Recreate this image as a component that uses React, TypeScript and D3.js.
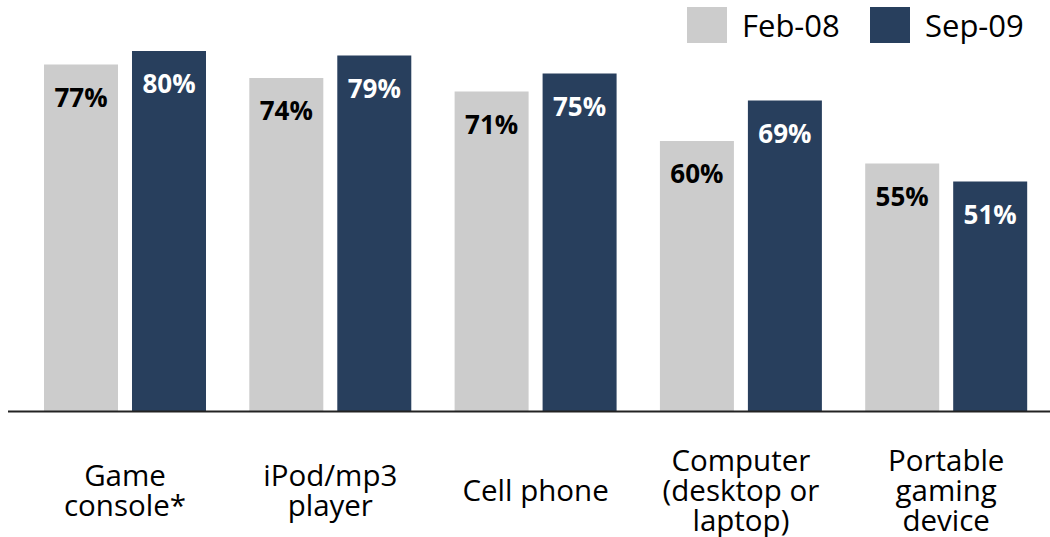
import React from "react";
import * as d3 from "d3";

const categories: string[][] = [
  ["Game", "console*"],
  ["iPod/mp3", "player"],
  ["Cell phone"],
  ["Computer", "(desktop or", "laptop)"],
  ["Portable", "gaming", "device"],
];
const seriesNames = ["Feb-08", "Sep-09"];
const feb08 = [77, 74, 71, 60, 55];
const sep09 = [80, 79, 75, 69, 51];

const W = 1050;
const H = 537;
const FONT = "'Open Sans', 'Noto Sans', sans-serif";
const COLORS = ["#cccccc", "#283f5d"];
const LABEL_COLORS = ["#000000", "#ffffff"];

export default function App() {
  const keys = categories.map((c) => c.join(" "));
  const series = [feb08, sep09];

  const x0 = d3
    .scaleBand<string>()
    .domain(keys)
    .range([22.35, 22.35 + 5 * 205.3])
    .paddingInner(0.211)
    .paddingOuter(0.1055);
  const x1 = d3
    .scaleBand<string>()
    .domain(seriesNames)
    .range([0, x0.bandwidth()])
    .paddingInner(0.159)
    .paddingOuter(0);
  const y = d3.scaleLinear().domain([0, 100]).range([411, -39]);

  const lineH = 30.3;
  const labelMid = 501;

  return (
    <svg
      width={W}
      height={H}
      style={{ position: "absolute", left: 0, top: 0, background: "#fff" }}
    >
      {keys.map((k, i) => (
        <g key={k} transform={`translate(${x0(k)},0)`}>
          {seriesNames.map((s, j) => {
            const v = series[j][i];
            const bx = x1(s) as number;
            const top = y(v);
            return (
              <g key={s}>
                <rect
                  x={bx}
                  y={top}
                  width={x1.bandwidth()}
                  height={y(0) - top}
                  fill={COLORS[j]}
                />
                <text
                  x={bx + x1.bandwidth() / 2}
                  y={top + 42}
                  textAnchor="middle"
                  fontFamily={FONT}
                  fontWeight="bold"
                  fontSize={26}
                  fill={LABEL_COLORS[j]}
                >
                  {v}%
                </text>
              </g>
            );
          })}
        </g>
      ))}
      <line x1={8} x2={W} y1={411.5} y2={411.5} stroke="#222" strokeWidth={2.2} />
      {categories.map((lines, i) => {
        const cx = (x0(keys[i]) as number) + x0.bandwidth() / 2;
        const n = lines.length;
        return (
          <text
            key={i}
            textAnchor="middle"
            fontFamily={FONT}
            fontSize={29.5}
            fill="#000"
          >
            {lines.map((t, li) => (
              <tspan key={li} x={cx} y={labelMid + (li - (n - 1) / 2) * lineH}>
                {t}
              </tspan>
            ))}
          </text>
        );
      })}
      {seriesNames.map((s, j) => {
        const lx = [687, 870][j];
        return (
          <g key={s}>
            <rect x={lx} y={7} width={40} height={36} fill={COLORS[j]} />
            <text
              x={lx + 55}
              y={37}
              fontFamily={FONT}
              fontSize={31}
              fill="#000"
            >
              {s}
            </text>
          </g>
        );
      })}
    </svg>
  );
}
